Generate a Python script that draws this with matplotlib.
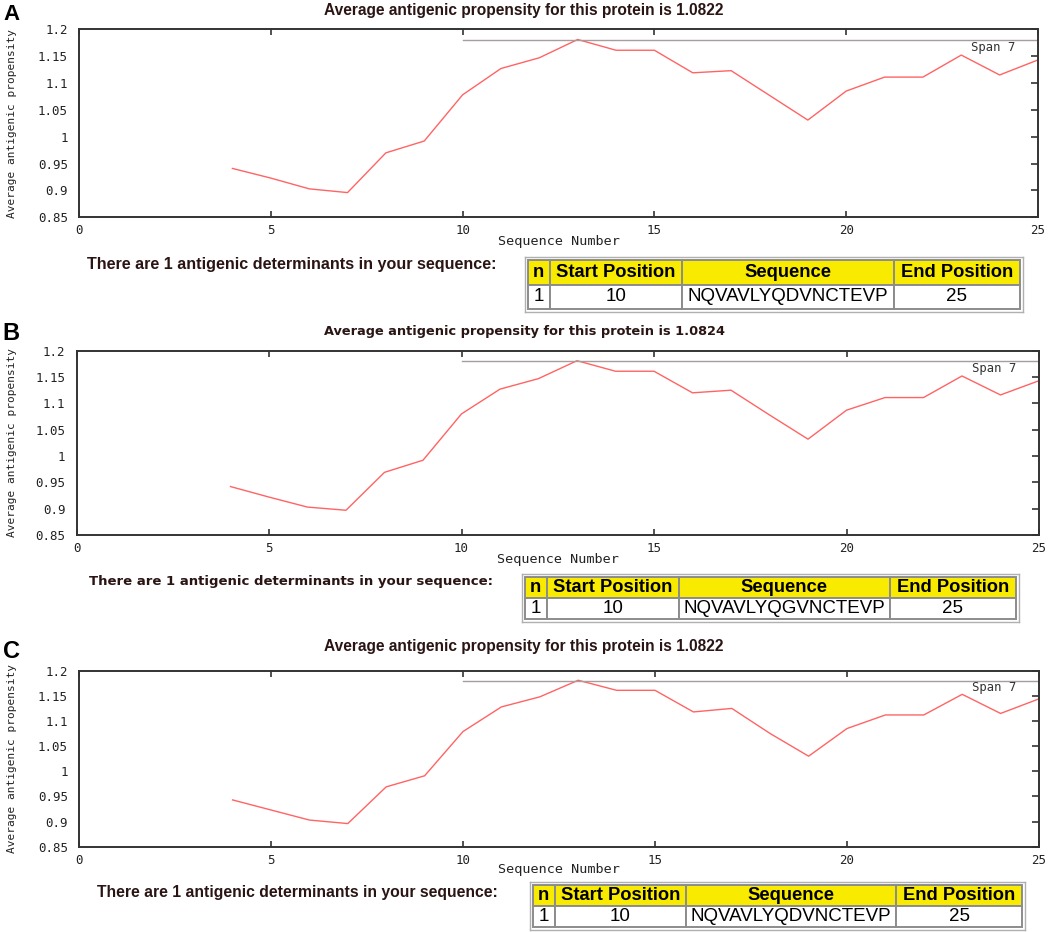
import matplotlib
matplotlib.use("Agg")
import matplotlib.pyplot as plt
from matplotlib.ticker import FuncFormatter

# ---------------- data ----------------
positions = list(range(4, 26))
prop_a = [0.941, 0.923, 0.903, 0.896, 0.970, 0.992, 1.078, 1.127, 1.147, 1.181, 1.161,
          1.161, 1.119, 1.123, 1.077, 1.031, 1.085, 1.111, 1.111, 1.152, 1.115, 1.143]
prop_b = [0.942, 0.922, 0.903, 0.897, 0.969, 0.992, 1.080, 1.127, 1.147, 1.181, 1.161,
          1.161, 1.120, 1.125, 1.078, 1.032, 1.087, 1.111, 1.111, 1.152, 1.116, 1.143]
prop_c = [0.943, 0.923, 0.903, 0.896, 0.969, 0.991, 1.079, 1.128, 1.148, 1.181, 1.161,
          1.161, 1.118, 1.125, 1.075, 1.030, 1.085, 1.112, 1.112, 1.153, 1.115, 1.144]
x_ticks = [0, 5, 10, 15, 20, 25]
y_ticks = [0.85, 0.9, 0.95, 1.0, 1.05, 1.1, 1.15, 1.2]
span_level = 1.18
span_start = 10
span_label = "Span 7"
panel_letters = ["A", "B", "C"]
averages = ["1.0822", "1.0824", "1.0822"]
table_cols = ["n", "Start Position", "Sequence", "End Position"]
row_a = ["1", "10", "NQVAVLYQDVNCTEVP", "25"]
row_b = ["1", "10", "NQVAVLYQGVNCTEVP", "25"]
row_c = ["1", "10", "NQVAVLYQDVNCTEVP", "25"]

W, H = 1052, 932
fig = plt.figure(figsize=(W / 100, H / 100), dpi=100)
fig.patch.set_facecolor("white")

MONO = "DejaVu Sans Mono"
ARIAL = "Liberation Sans"


def fx(x):
    return x / W


def fy(y):
    return 1 - y / H


panels = [
    dict(vals=prop_a, row=row_a, ax=(79, 29.3, 1038, 217.3), letter_xy=(3, 14), letter_fs=16,
         title_y=10, title_fam=ARIAL, title_fs=11.2,
         xl_y=242, txt_xy=(87, 265), txt_fam=ARIAL, txt_fs=11.6, tbl=(525, 257, 1023, 312),
         tbl_fs=13.5),
    dict(vals=prop_b, row=row_b, ax=(76.5, 350.7, 1039, 535), letter_xy=(2, 333), letter_fs=17,
         title_y=331, title_fam="DejaVu Sans", title_fs=9.3,
         xl_y=559, txt_xy=(89, 582), txt_fam="DejaVu Sans", txt_fs=9.5, tbl=(522, 574, 1019, 622),
         tbl_fs=13.5),
    dict(vals=prop_c, row=row_c, ax=(79, 670.7, 1039, 846.7), letter_xy=(3, 651), letter_fs=17,
         title_y=647, title_fam=ARIAL, title_fs=11.2,
         xl_y=869, txt_xy=(97, 893), txt_fam=ARIAL, txt_fs=11.3, tbl=(530, 882, 1025, 930),
         tbl_fs=13.5),
]

for i, p in enumerate(panels):
    l, t, r, b = p["ax"]
    ax = fig.add_axes([fx(l), fy(b), fx(r - l), (b - t) / H])
    ax.plot(positions, p["vals"], color="#ff6464", lw=1.0)
    ax.plot([span_start, 25], [span_level, span_level], color="#a89c9c", lw=1.0)
    ax.text(24.4, span_level - 0.001, span_label, ha="right", va="top",
            family=MONO, fontsize=8.8, color="#333333")
    ax.set_xlim(0, 25)
    ax.set_ylim(0.85, 1.2)
    ax.set_xticks(x_ticks)
    ax.set_yticks(y_ticks)
    ax.yaxis.set_major_formatter(FuncFormatter(lambda v, pos: "%g" % round(v, 2)))
    ax.tick_params(axis="x", direction="in", top=True, bottom=True, length=4, width=1.2,
                   color="#333333", pad=5, labelsize=9)
    ax.tick_params(axis="y", direction="in", left=False, right=True, length=5, width=1.2,
                   color="#333333", pad=8, labelsize=9)
    for lab in ax.get_xticklabels() + ax.get_yticklabels():
        lab.set_family(MONO)
        lab.set_color("#222222")
    for s in ax.spines.values():
        s.set_color("#333333")
        s.set_linewidth(1.4)

    cy = (t + b) / 2
    fig.text(fx(12), fy(cy), "Average antigenic propensity", rotation=90, ha="center",
             va="center", family=MONO, fontsize=8, color="#222222")
    fig.text(fx((l + r) / 2), fy(p["xl_y"]), "Sequence Number", ha="center", va="center",
             family=MONO, fontsize=9.7, color="#222222")
    fig.text(fx(p["letter_xy"][0]), fy(p["letter_xy"][1]), panel_letters[i], ha="left",
             va="center", family=ARIAL, fontweight="bold", fontsize=p["letter_fs"],
             color="black")
    fig.text(fx(524), fy(p["title_y"]),
             "Average antigenic propensity for this protein is " + averages[i],
             ha="center", va="center", family=p["title_fam"], fontweight="bold",
             fontsize=p["title_fs"], color="#2a1414")
    fig.text(fx(p["txt_xy"][0]), fy(p["txt_xy"][1]),
             "There are 1 antigenic determinants in your sequence:", ha="left", va="center",
             family=p["txt_fam"], fontweight="bold", fontsize=p["txt_fs"], color="#2a1414")

    tl, tt, tr, tb = p["tbl"]
    tax = fig.add_axes([fx(tl), fy(tb), fx(tr - tl), (tb - tt) / H])
    tax.set_xticks([])
    tax.set_yticks([])
    for s in tax.spines.values():
        s.set_color("#b0b0b0")
        s.set_linewidth(1.0)
    widths = [22, 134, 214, 128]
    tot = sum(widths)
    tbl = tax.table(cellText=[p["row"]], colLabels=table_cols,
                    colWidths=[w / tot for w in widths], cellLoc="center",
                    bbox=[0.006, 0.06, 0.988, 0.88])
    tbl.auto_set_font_size(False)
    for (rr, cc), cell in tbl.get_celld().items():
        cell.set_edgecolor("#8c8c8c")
        cell.set_linewidth(1.4)
        txt = cell.get_text()
        txt.set_family(ARIAL)
        if rr == 0:
            cell.set_facecolor("#f9eb00")
            txt.set_fontweight("bold")
            txt.set_fontsize(p["tbl_fs"] - 0.3)
        else:
            cell.set_facecolor("white")
            txt.set_fontsize(p["tbl_fs"])
        txt.set_color("black")

fig.savefig("out.png", dpi=100, facecolor="white")
